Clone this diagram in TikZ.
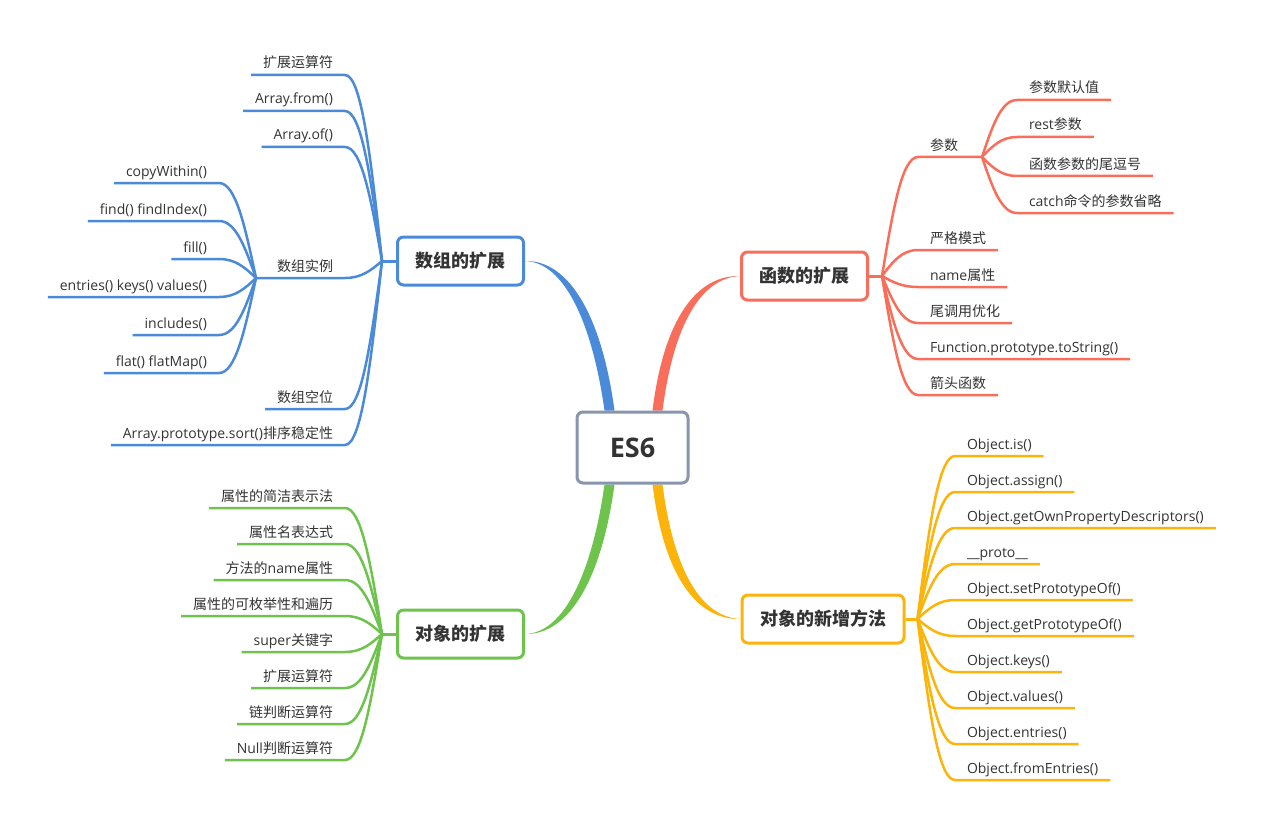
\documentclass[tikz,border=0pt]{standalone}
\usepackage{fontspec}
\setmainfont{Open Sans}
\newfontfamily\cjk{Noto Sans CJK SC}
\usepackage{xcolor}
\usetikzlibrary{calc,backgrounds}
\definecolor{cblue}{HTML}{4A8AD9}
\definecolor{cred}{HTML}{F96E5B}
\definecolor{cgreen}{HTML}{6DC34C}
\definecolor{corange}{HTML}{FDB40A}
\definecolor{cgray}{HTML}{8795AD}
\definecolor{ctext}{HTML}{333333}
\tikzset{fanto/.style={to path={let \p1=(\tikztostart),\p2=(\tikztotarget) in
  .. controls ({\x1+0.45*(\x2-\x1)},\y1) and ({\x2+0.3*(\x1-\x2)},{\y2+0.55*(\y1-\y2)}) .. (\tikztotarget)}}}

\begin{document}
\begin{tikzpicture}[x=1pt,y=-1pt,
  topic/.style={draw=#1,line width=3pt,rounded corners=6pt,fill=white,minimum height=48pt,inner xsep=18pt,text=ctext,font=\cjk\bfseries\fontsize{18}{21}\selectfont},
  leaf/.style={inner xsep=12pt,inner ysep=3.5pt,outer sep=0pt,text height=10pt,text depth=3.5pt,text=ctext,font=\fontsize{14}{16}\selectfont},
  bl/.style={cblue,line width=2.5pt},
  rl/.style={cred,line width=2.5pt},
  gl/.style={cgreen,line width=2.5pt},
  ol/.style={corange,line width=2.5pt}]
\useasboundingbox (0,0) rectangle (1264,832);
\node[topic=cgray,minimum width=111pt,minimum height=71pt,font=\bfseries\fontsize{27}{30}\selectfont] (es6) at (632.5,447.5) {ES6};
\node[topic=cblue] (arr) at (460.5,261) {数组的扩展};
\node[topic=cred] (fun) at (804.5,276) {函数的扩展};
\node[topic=cgreen] (obj) at (460.5,634) {对象的扩展};
\node[topic=corange] (objm) at (823,619) {对象的新增方法};
\begin{scope}[on background layer]
\fill[cblue] ($(es6.north)+(-28,0)$) .. controls (592,322) and (564,262) .. (arr.east) .. controls (570,260) and (602,318) .. ($(es6.north)+(-18,0)$) -- cycle;
\fill[cred] ($(es6.north)+(20,0)$) .. controls (664,318) and (697,275) .. (fun.west) .. controls (702,278) and (674,322) .. ($(es6.north)+(30,0)$) -- cycle;
\fill[cgreen] ($(es6.south)+(-28,0)$) .. controls (592,573) and (564,633) .. (obj.east) .. controls (570,635) and (602,577) .. ($(es6.south)+(-18,0)$) -- cycle;
\fill[corange] ($(es6.south)+(20,0)$) .. controls (664,577) and (697,620) .. (objm.west) .. controls (702,617) and (674,573) .. ($(es6.south)+(30,0)$) -- cycle;
\end{scope}

\coordinate (af) at ($(arr.west)+(-14,0)$);
\coordinate (ff) at ($(fun.east)+(13,0)$);
\coordinate (gf) at ($(obj.west)+(-14,0)$);
\coordinate (of) at ($(objm.east)+(12,0)$);
\draw[bl,line width=3pt] (arr.west) -- (af);
\draw[rl,line width=3pt] (fun.east) -- (ff);
\draw[gl,line width=3pt] (obj.west) -- (gf);
\draw[ol,line width=3pt] (objm.east) -- (of);

\node[leaf,anchor=south east] (a1) at (345,75) {\cjk 扩展运算符};
\node[leaf,anchor=south east] (a2) at (345,111) {Array.from()};
\node[leaf,anchor=south east] (a3) at (345,147) {Array.of()};
\node[leaf,anchor=south east] (a4) at (345,278) {\cjk 数组实例};
\node[leaf,anchor=south east] (a5) at (345,409) {\cjk 数组空位};
\node[leaf,anchor=south east] (a6) at (345,445) {Array.prototype.sort(){\cjk 排序稳定性}};
\draw[bl] (a1.south west) -- (a1.south east) to[fanto] (af);
\draw[bl] (a2.south west) -- (a2.south east) to[fanto] (af);
\draw[bl] (a3.south west) -- (a3.south east) to[fanto] (af);
\coordinate (af2) at (256,278);
\draw[bl] (af2) -- (a4.south east) to[fanto] (af);
\draw[bl] (a5.south west) -- (a5.south east) to[fanto] (af);
\draw[bl] (a6.south west) -- (a6.south east) to[fanto] (af);

\node[leaf,anchor=south east] (b1) at (219,183) {copyWithin()};
\node[leaf,anchor=south east] (b2) at (219,221) {find() findIndex()};
\node[leaf,anchor=south east] (b3) at (219,259) {fill()};
\node[leaf,anchor=south east] (b4) at (219,297) {entries() keys() values()};
\node[leaf,anchor=south east] (b5) at (219,335) {includes()};
\node[leaf,anchor=south east] (b6) at (219,373) {flat() flatMap()};
\draw[bl] (b1.south west) -- (b1.south east) to[fanto] (af2);
\draw[bl] (b2.south west) -- (b2.south east) to[fanto] (af2);
\draw[bl] (b3.south west) -- (b3.south east) to[fanto] (af2);
\draw[bl] (b4.south west) -- (b4.south east) to[fanto] (af2);
\draw[bl] (b5.south west) -- (b5.south east) to[fanto] (af2);
\draw[bl] (b6.south west) -- (b6.south east) to[fanto] (af2);

\node[leaf,anchor=south west] (f1) at (918,157) {\cjk 参数};
\node[leaf,anchor=south west] (f2) at (918,250) {\cjk 严格模式};
\node[leaf,anchor=south west] (f3) at (918,287) {name{\cjk 属性}};
\node[leaf,anchor=south west] (f4) at (918,323) {\cjk 尾调用优化};
\node[leaf,anchor=south west] (f5) at (918,359) {Function.prototype.toString()};
\node[leaf,anchor=south west] (f6) at (918,395) {\cjk 箭头函数};
\coordinate (ff2) at (982,157);
\draw[rl] (ff2) -- (f1.south west) to[fanto] (ff);
\draw[rl] (f2.south east) -- (f2.south west) to[fanto] (ff);
\draw[rl] (f3.south east) -- (f3.south west) to[fanto] (ff);
\draw[rl] (f4.south east) -- (f4.south west) to[fanto] (ff);
\draw[rl] (f5.south east) -- (f5.south west) to[fanto] (ff);
\draw[rl] (f6.south east) -- (f6.south west) to[fanto] (ff);

\node[leaf,anchor=south west] (g1) at (1017,100) {\cjk 参数默认值};
\node[leaf,anchor=south west] (g2) at (1017,137) {rest{\cjk 参数}};
\node[leaf,anchor=south west] (g3) at (1017,176) {\cjk 函数参数的尾逗号};
\node[leaf,anchor=south west] (g4) at (1017,213) {catch{\cjk 命令的参数省略}};
\draw[rl] (g1.south east) -- (g1.south west) to[fanto] (ff2);
\draw[rl] (g2.south east) -- (g2.south west) to[fanto] (ff2);
\draw[rl] (g3.south east) -- (g3.south west) to[fanto] (ff2);
\draw[rl] (g4.south east) -- (g4.south west) to[fanto] (ff2);

\node[leaf,anchor=south east] (n1) at (345,508) {\cjk 属性的简洁表示法};
\node[leaf,anchor=south east] (n2) at (345,544) {\cjk 属性名表达式};
\node[leaf,anchor=south east] (n3) at (345,580) {{\cjk 方法的}name{\cjk 属性}};
\node[leaf,anchor=south east] (n4) at (345,616) {\cjk 属性的可枚举性和遍历};
\node[leaf,anchor=south east] (n5) at (345,652) {super{\cjk 关键字}};
\node[leaf,anchor=south east] (n6) at (345,688) {\cjk 扩展运算符};
\node[leaf,anchor=south east] (n7) at (345,724) {\cjk 链判断运算符};
\node[leaf,anchor=south east] (n8) at (345,760) {Null{\cjk 判断运算符}};
\draw[gl] (n1.south west) -- (n1.south east) to[fanto] (gf);
\draw[gl] (n2.south west) -- (n2.south east) to[fanto] (gf);
\draw[gl] (n3.south west) -- (n3.south east) to[fanto] (gf);
\draw[gl] (n4.south west) -- (n4.south east) to[fanto] (gf);
\draw[gl] (n5.south west) -- (n5.south east) to[fanto] (gf);
\draw[gl] (n6.south west) -- (n6.south east) to[fanto] (gf);
\draw[gl] (n7.south west) -- (n7.south east) to[fanto] (gf);
\draw[gl] (n8.south west) -- (n8.south east) to[fanto] (gf);

\node[leaf,anchor=south west] (o1) at (955,456) {Object.is()};
\node[leaf,anchor=south west] (o2) at (955,492) {Object.assign()};
\node[leaf,anchor=south west] (o3) at (955,528) {Object.getOwnPropertyDescriptors()};
\node[leaf,anchor=south west] (o4) at (955,564) {\_\_proto\_\_};
\node[leaf,anchor=south west] (o5) at (955,600) {Object.setPrototypeOf()};
\node[leaf,anchor=south west] (o6) at (955,636) {Object.getPrototypeOf()};
\node[leaf,anchor=south west] (o7) at (955,672) {Object.keys()};
\node[leaf,anchor=south west] (o8) at (955,708) {Object.values()};
\node[leaf,anchor=south west] (o9) at (955,744) {Object.entries()};
\node[leaf,anchor=south west] (o10) at (955,780) {Object.fromEntries()};
\draw[ol] (o1.south east) -- (o1.south west) to[fanto] (of);
\draw[ol] (o2.south east) -- (o2.south west) to[fanto] (of);
\draw[ol] (o3.south east) -- (o3.south west) to[fanto] (of);
\draw[ol] (o4.south east) -- (o4.south west) to[fanto] (of);
\draw[ol] (o5.south east) -- (o5.south west) to[fanto] (of);
\draw[ol] (o6.south east) -- (o6.south west) to[fanto] (of);
\draw[ol] (o7.south east) -- (o7.south west) to[fanto] (of);
\draw[ol] (o8.south east) -- (o8.south west) to[fanto] (of);
\draw[ol] (o9.south east) -- (o9.south west) to[fanto] (of);
\draw[ol] (o10.south east) -- (o10.south west) to[fanto] (of);
\end{tikzpicture}
\end{document}
